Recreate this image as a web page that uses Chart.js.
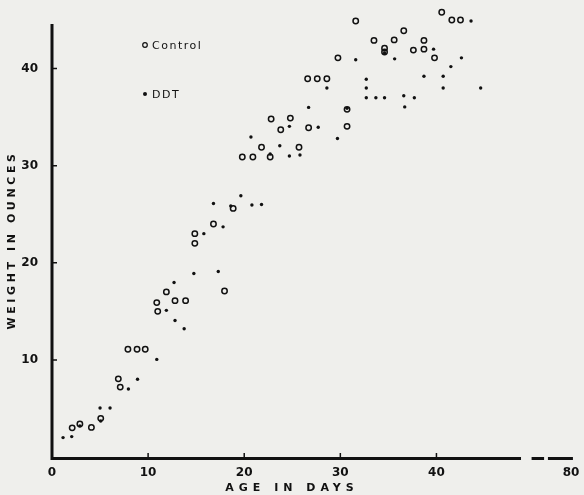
<!DOCTYPE html>
<html>
<head>
<meta charset="utf-8">
<script src="https://cdn.jsdelivr.net/npm/chart.js@4.4.1/dist/chart.umd.min.js"></script>
<style>
  html, body { margin: 0; padding: 0; background: #efefec; }
  #wrap { width: 584px; height: 495px; }
</style>
</head>
<body>
<div id="wrap"><canvas id="c" width="584" height="495"></canvas></div>
<script>
// data (age in days, weight in ounces)
const controlAge = [2.1, 2.9, 4.1, 5.07, 6.9, 7.1, 7.9, 8.85, 9.7, 10.9, 11.0, 11.9, 12.8, 13.9,
  14.86, 14.86, 16.8, 17.95, 18.85, 19.8, 20.9, 21.8, 22.7, 22.8, 23.8, 24.8, 25.7, 26.7,
  26.6, 27.6, 28.6, 29.75, 30.7, 30.7, 31.6, 33.5, 34.6, 34.6, 35.6, 36.6, 37.6, 38.7,
  38.7, 39.8, 40.55, 41.6, 42.5];
const controlWeight = [3.0, 3.4, 3.05, 3.98, 8.05, 7.2, 11.1, 11.1, 11.1, 15.9, 15.0, 17.0, 16.1, 16.1,
  23.0, 22.0, 24.0, 17.1, 25.6, 30.9, 30.9, 31.9, 30.9, 34.8, 33.7, 34.9, 31.9, 33.9,
  38.95, 38.95, 38.95, 41.1, 35.8, 34.05, 44.9, 42.9, 42.1, 41.7, 42.95, 43.9, 41.9, 42.9,
  42.0, 41.1, 45.8, 45.0, 45.0];

const ddtAge = [1.15, 2.05, 2.9, 5.07, 5.0, 6.04, 7.95, 8.9, 10.9, 11.9, 12.8, 13.75, 12.7, 14.76,
  17.3, 15.8, 17.8, 16.8, 18.6, 19.65, 20.8, 21.8, 20.7, 22.7, 23.7, 24.7, 25.8, 24.7,
  26.7, 27.7, 29.7, 30.7, 28.6, 31.6, 32.7, 32.7, 32.7, 33.7, 34.6, 34.6, 35.65, 36.6,
  36.7, 37.7, 38.7, 39.7, 40.7, 40.7, 41.5, 42.6, 43.6, 44.6];
const ddtWeight = [2.0, 2.1, 3.2, 3.7, 5.04, 5.04, 7.0, 8.0, 10.05, 15.1, 14.06, 13.2, 17.97, 18.9,
  19.1, 23.0, 23.7, 26.1, 25.85, 26.9, 25.95, 26.0, 32.95, 31.2, 32.05, 31.0, 31.1, 34.05,
  36.0, 33.95, 32.8, 35.9, 38.0, 40.9, 38.9, 38.0, 37.0, 37.0, 37.0, 41.6, 41.0, 37.2,
  36.05, 37.0, 39.2, 42.0, 39.2, 38.0, 40.2, 41.1, 44.9, 38.0];

// axis ticks; the last x tick sits after the broken part of the axis
const xTicks = [0, 10, 20, 30, 40, 54];
const xTickLabels = ['0', '10', '20', '30', '40', '80'];
const yTicks = [10, 20, 30, 40];

const ink = '#111';

function pts(xs, ys) {
  return xs.map(function (x, i) { return { x: x, y: ys[i] }; });
}

// axis lines, the break in the x axis, inside tick marks, titles and key
const paperAxes = {
  id: 'paperAxes',
  afterDatasetsDraw: function (chart) {
    const ctx = chart.ctx;
    const xs = chart.scales.x, ys = chart.scales.y;
    const x0 = xs.getPixelForValue(0), y0 = ys.getPixelForValue(0);
    ctx.save();
    ctx.strokeStyle = ink;
    ctx.lineWidth = 3;
    ctx.lineCap = 'butt';
    ctx.beginPath();
    ctx.moveTo(x0, ys.getPixelForValue(44.6));
    ctx.lineTo(x0, y0 + 1.5);
    ctx.lineTo(xs.getPixelForValue(48.8), y0 + 1.5);
    ctx.moveTo(xs.getPixelForValue(49.9), y0 + 1.5);
    ctx.lineTo(xs.getPixelForValue(51.2), y0 + 1.5);
    ctx.moveTo(xs.getPixelForValue(51.6), y0 + 1.5);
    ctx.lineTo(xs.getPixelForValue(54.2), y0 + 1.5);
    ctx.stroke();

    ctx.lineWidth = 1.5;
    ctx.beginPath();
    yTicks.forEach(function (v) {
      const py = ys.getPixelForValue(v);
      ctx.moveTo(x0, py);
      ctx.lineTo(x0 + 5, py);
    });
    xTicks.slice(1, 5).forEach(function (v) {
      const px = xs.getPixelForValue(v);
      ctx.moveTo(px, y0);
      ctx.lineTo(px, y0 - 4);
    });
    ctx.stroke();

    ctx.fillStyle = ink;
    ctx.font = 'bold 11px "DejaVu Sans"';
    ctx.letterSpacing = '5px';
    ctx.textAlign = 'center';
    ctx.textBaseline = 'middle';
    ctx.fillText('AGE IN DAYS', 292, 488);
    ctx.save();
    ctx.translate(12, 240);
    ctx.rotate(-Math.PI / 2);
    ctx.letterSpacing = '3.6px';
    ctx.fillText('WEIGHT IN OUNCES', 0, 0);
    ctx.restore();

    // key
    ctx.letterSpacing = '1.5px';
    ctx.font = '11px "DejaVu Sans"';
    ctx.textAlign = 'left';
    ctx.lineWidth = 1.2;
    ctx.beginPath();
    ctx.arc(145, 45, 2.3, 0, Math.PI * 2);
    ctx.stroke();
    ctx.fillText('Control', 152, 46);
    ctx.beginPath();
    ctx.arc(145, 94, 2.0, 0, Math.PI * 2);
    ctx.fill();
    ctx.fillText('DDT', 152, 95);
    ctx.restore();
  }
};

new Chart(document.getElementById('c'), {
  type: 'scatter',
  data: {
    datasets: [{
      label: 'Control',
      data: pts(controlAge, controlWeight),
      pointStyle: 'circle',
      pointRadius: 2.7,
      borderWidth: 1.5,
      borderColor: ink,
      backgroundColor: 'rgba(0,0,0,0)',
      clip: false
    }, {
      label: 'DDT',
      data: pts(ddtAge, ddtWeight),
      pointStyle: 'circle',
      pointRadius: 1.7,
      borderWidth: 0,
      borderColor: ink,
      backgroundColor: ink,
      clip: false
    }]
  },
  options: {
    responsive: false,
    animation: false,
    layout: { padding: { left: 0, right: 13, top: 0, bottom: 0 } },
    plugins: { legend: { display: false }, tooltip: { enabled: false } },
    scales: {
      x: {
        type: 'linear',
        min: 0,
        max: 54,
        grid: { display: false },
        border: { display: false },
        afterBuildTicks: function (scale) {
          scale.ticks = xTicks.map(function (v) { return { value: v }; });
        },
        afterFit: function (scale) { scale.height = 38; },
        ticks: {
          padding: 1,
          maxRotation: 0,
          color: ink,
          font: { family: 'DejaVu Sans', weight: 'bold', size: 12 },
          callback: function (v) { return xTickLabels[xTicks.indexOf(v)]; }
        }
      },
      y: {
        type: 'linear',
        min: 0,
        max: 45.7,
        grid: { display: false },
        border: { display: false },
        afterBuildTicks: function (scale) {
          scale.ticks = yTicks.map(function (v) { return { value: v }; });
        },
        afterFit: function (scale) { scale.width = 52; },
        ticks: {
          padding: 6,
          color: ink,
          font: { family: 'DejaVu Sans', weight: 'bold', size: 12 }
        }
      }
    }
  },
  plugins: [paperAxes]
});
</script>
</body>
</html>
